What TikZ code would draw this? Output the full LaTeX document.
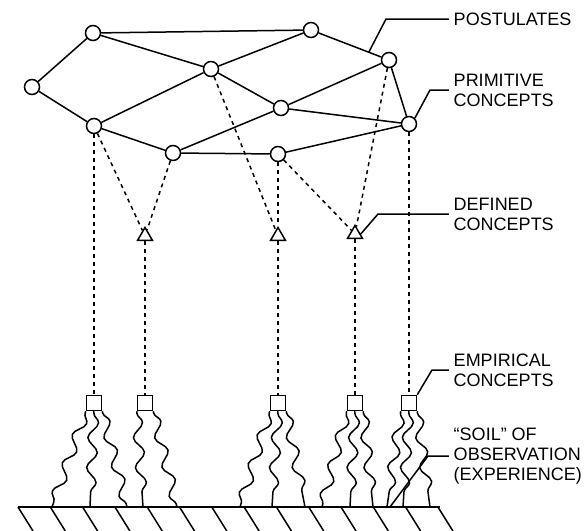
\documentclass[tikz,border=0pt]{standalone}
\usepackage{fontspec}
\setmainfont{Liberation Sans}
\usetikzlibrary{shapes.geometric,decorations.pathmorphing}

\begin{document}
\begin{tikzpicture}[x=0.5pt,y=-0.5pt,line width=0.75pt,
  prim/.style={circle,draw,fill=white,minimum size=7.5pt,inner sep=0pt},
  defd/.style={regular polygon,regular polygon sides=3,draw,minimum size=8.5pt,inner sep=0pt},
  emp/.style={rectangle,draw,minimum size=7.5pt,inner sep=0pt},
  link/.style={dash pattern=on 2pt off 2pt},
  wavy/.style={decorate,decoration={snake,segment length=15pt,amplitude=2.5pt,pre length=1pt,post length=1pt}},
  lbl/.style={align=left,anchor=west,inner xsep=2pt,inner ysep=0pt,font=\fontsize{9}{10}\selectfont}]
\useasboundingbox (0,0) rectangle (586,531);

% primitive concepts
\node[prim] (0) at (93,33) {};
\node[prim] (1) at (311,30) {};
\node[prim] (2) at (32,87) {};
\node[prim] (3) at (211,69) {};
\node[prim] (4) at (389,60) {};
\node[prim] (5) at (281,108) {};
\node[prim] (6) at (94,126) {};
\node[prim] (7) at (409,124) {};
\node[prim] (8) at (173,153) {};
\node[prim] (9) at (278,154) {};

% defined concepts
\node[defd] (d0) at (145,236) {};
\node[defd] (d1) at (278,236) {};
\node[defd] (d2) at (355,234) {};

% empirical concepts
\node[emp] (e0) at (94,403) {};
\node[emp] (e1) at (145,403) {};
\node[emp] (e2) at (278,403) {};
\node[emp] (e3) at (355,403) {};
\node[emp] (e4) at (409,403) {};

% postulates
\path
	(0) edge (1)
	(0) edge (2)
	(0) edge (3)
	(1) edge (3)
	(2) edge (6)
	(6) edge (3)
	(3) edge (5)
	(6) edge (8)
	(8) edge (5)
	(5) edge (4)
	(5) edge (7)
	(4) edge (7)
	(8) edge (9)
	(9) edge (7)
;
\draw (1) -- coordinate[pos=0.8] (pb) (4);

% rules of correspondence
\path[link]
	(6) edge (e0)
	(6) edge (d0)
	(8) edge (d0)
	(d0) edge (e1)
	(3) edge (d1)
	(9) edge (d1)
	(d1) edge (e2)
	(9) edge (d2)
	(4) edge (d2)
	(d2) edge (e3)
	(7) edge (e4)
;

% soil
\coordinate (gl) at (18,507);
\coordinate (gr) at (440,507);
\coordinate (gs) at (390,507);
\draw (gl) -- (gr);
\foreach \i in {0,...,13}
	\draw (18+32.3*\i,507) -- ++(15,24);
\foreach \b/\a/\x in {e0/south west/52, e0/south/90, e0/south east/127,
		e1/south west/143, e1/south east/177,
		e2/south west/240, e2/south/272, e2/south east/305,
		e3/south west/322, e3/south/350, e3/south east/373,
		e4/south west/387, e4/south/403, e4/south east/430} {
	\coordinate (g\x) at (\x,507);
	\draw[wavy] (\b.\a) -- (g\x);
}

% labels
\node[lbl] (lpost) at (449,19) {POSTULATES};
\node[lbl] (lprim) at (449,90) {PRIMITIVE\\CONCEPTS};
\node[lbl] (ldef) at (449,214) {DEFINED\\CONCEPTS};
\node[lbl] (lemp) at (449,370) {EMPIRICAL\\CONCEPTS};
\node[lbl] (lsoil) at (449,456) {“SOIL” OF\\OBSERVATION\\(EXPERIENCE)};

\draw (pb) -- ([xshift=-31.5pt]lpost.west) -- (lpost.west);
\draw (7.north east) -- ([xshift=-9.5pt]lprim.west) -- (lprim.west);
\draw (d2.east) -- ([xshift=-35.5pt]ldef.west) -- (ldef.west);
\draw (e4.north east) -- ([xshift=-8.5pt]lemp.west) -- (lemp.west);
\draw (gs) -- ([xshift=-10.5pt]lsoil.west) -- (lsoil.west);
\end{tikzpicture}
\end{document}
